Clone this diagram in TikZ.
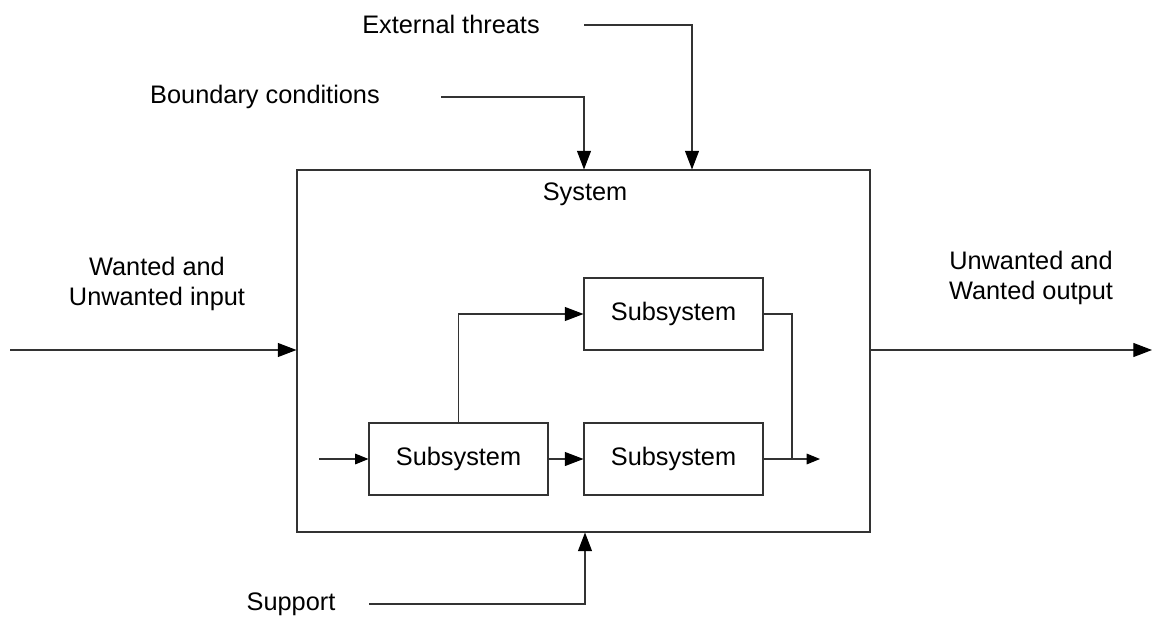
\documentclass[tikz,border=0pt]{standalone}
\usepackage{fontspec}
\setmainfont{Liberation Sans}
\usetikzlibrary{arrows.meta}
\begin{document}
\begin{tikzpicture}[x=0.75pt,y=-0.75pt,
  line/.style={draw=black!80,line width=0.8pt},
  flow/.style={line,-{Triangle[length=14pt,width=10.5pt,color=black]}},
  flowsmall/.style={line,-{Triangle[length=10pt,width=8pt,color=black]}},
  box/.style={draw=black!80,line width=0.8pt,minimum width=179*0.75pt,minimum height=72*0.75pt,inner sep=0pt},
  lbl/.style={font=\fontsize{19}{22}\selectfont,inner sep=0pt,align=center}]
\useasboundingbox (0,0) rectangle (1152,617);

% outer system box
\node[draw=black!80,line width=0.8pt,minimum width=573*0.75pt,minimum height=362*0.75pt,inner sep=0pt] (sys) at (583.5,351) {};
\node[lbl] (systxt) at (585,194) {System};

% subsystems
\node[box,lbl] (s1) at (458.5,459) {Subsystem};
\node[box,lbl] (s2) at (673.5,459) {Subsystem};
\node[box,lbl] (s3) at (673.5,314) {Subsystem};

% external labels
\node[lbl] (ext) at (451,24) {External threats};
\node[lbl] (bnd) at (265,97) {Boundary conditions};
\node[lbl] (win) at (157,284) {Wanted and\\Unwanted input};
\node[lbl] (wout) at (1031,278) {Unwanted and\\Wanted output};
\node[lbl] (sup) at (291,604) {Support};

% free ends of connectors
\coordinate (extA) at (584,25);
\coordinate (extB) at (692,25);
\coordinate (bndA) at (441,97);
\coordinate (bndB) at (584,97);
\coordinate (supA) at (369,604);
\coordinate (supB) at (585,604);
\coordinate (inA) at (10,350);
\coordinate (outB) at (1152,350);
\coordinate (s1in) at (319,459);
\coordinate (join) at (792,459);
\coordinate (subout) at (820,459);

% connectors into and out of the system
\draw[flow] (extA) -- (extB) -- (extB |- sys.north);
\draw[flow] (bndA) -- (bndB) -- (bndB |- sys.north);
\draw[flow] (supA) -- (supB) -- (supB |- sys.south);
\draw[flow] (inA) -- (inA -| sys.west);
\draw[flow] (sys.east |- outB) -- (outB);

% connectors between subsystems
\draw[flowsmall] (s1in) -- (s1.west);
\draw[flow] (s1.east) -- (s2.west);
\draw[flow] (s1.north) |- (s3.west);
\draw[line] (s3.east) -| (join);
\draw[flowsmall] (s2.east) -- (subout);
\end{tikzpicture}
\end{document}
